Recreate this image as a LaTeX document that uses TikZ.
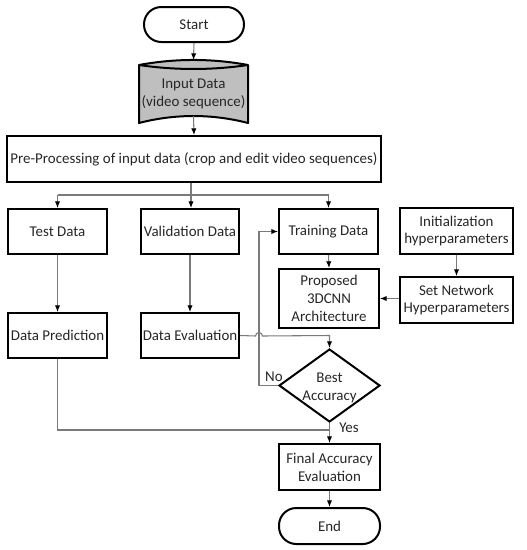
\documentclass[tikz,border=0pt]{standalone}
\usepackage{fontspec}
\setmainfont{Carlito}
\usetikzlibrary{arrows.meta,shapes.geometric}
\definecolor{txt}{HTML}{262626}
\definecolor{conngray}{HTML}{7A7A7A}
\definecolor{inputgray}{HTML}{BFBFBF}
\newcommand\fsz{\fontsize{11.2pt}{13.3pt}\selectfont}
\begin{document}
\begin{tikzpicture}[x=0.75pt,y=-0.75pt,
  box/.style={draw=black,line width=1.5pt,inner sep=0pt,align=center,font=\fsz,text=txt},
  term/.style={box,rounded corners=13pt},
  decision/.style={box,diamond,aspect=1.38},
  conn/.style={draw=conngray,line width=0.8pt,-{Latex[length=5pt,width=4pt,color=black]}},
  plain/.style={draw=conngray,line width=0.8pt},
  lbl/.style={font=\fsz,text=txt,inner sep=0pt,align=center}]
\useasboundingbox (0,0) rectangle (527,550);

% input data shape
\draw[fill=inputgray,line width=1.5pt,line join=round] (139,65) .. controls (175,58.3) and (212,58.3) .. (248,65)
  -- (248,123) .. controls (212,113.7) and (175,113.7) .. (139,123) -- cycle;
\draw[line width=1.5pt] (139,65) .. controls (175,70.3) and (212,70.3) .. (248,65);

\node[term,minimum width=100*0.75pt,minimum height=35*0.75pt] (start) at (194,24.5) {Start};
\node[lbl] (inp) at (193.5,94) {Input Data\\(video sequence)};
\coordinate (inptop) at (193.5,60);
\coordinate (inpbot) at (193.5,116);
\node[box,minimum width=374*0.75pt,minimum height=46*0.75pt] (pre) at (194,159) {Pre-Processing of input data (crop and edit video sequences)};

\node[box,minimum width=99*0.75pt,minimum height=45*0.75pt] (test) at (57.5,231.5) {Test Data};
\node[box,minimum width=98*0.75pt,minimum height=45*0.75pt] (val) at (190,231.5) {Validation Data};
\node[box,minimum width=99*0.75pt,minimum height=45*0.75pt] (train) at (328.5,231.5) {Training Data};
\node[box,minimum width=113*0.75pt,minimum height=46*0.75pt] (init) at (456.5,231) {Initialization\\hyperparameters};
\node[box,minimum width=100*0.75pt,minimum height=59*0.75pt] (prop) at (329,298.5) {Proposed\\3DCNN\\Architecture};
\node[box,minimum width=113*0.75pt,minimum height=46*0.75pt] (setnet) at (456.5,300) {Set Network\\Hyperparameters};
\node[box,minimum width=99*0.75pt,minimum height=45*0.75pt] (pred) at (57.5,335.5) {Data Prediction};
\node[box,minimum width=98*0.75pt,minimum height=45*0.75pt] (eval) at (190,335.5) {Data Evaluation};
\node[decision,minimum width=101*0.75pt,minimum height=73*0.75pt,inner sep=0pt] (best) at (329.5,385.5) {};
\node[lbl] (bestlbl) at (329.5,388) {Best\\Accuracy};
\node[box,minimum width=101*0.75pt,minimum height=46*0.75pt] (final) at (329.5,467) {Final Accuracy\\Evaluation};
\node[term,minimum width=101*0.75pt,minimum height=36*0.75pt] (end) at (329.5,526) {End};

% connectors
\draw[conn] (start.south) -- (inptop);
\draw[conn] (inpbot) -- (pre.north);
\coordinate (busL) at (57.5,195);
\coordinate (busR) at (328.5,195);
\coordinate (busM) at (191,195);
\draw[plain] (pre.south -| busM) -- (busM);
\draw[plain] (busL) -- (busR);
\draw[conn] (busL) -- (test.north);
\draw[conn] (busM) -- (busM |- val.north);
\draw[conn] (busR) -- (train.north);
\draw[conn] (train.south) -- (prop.north);
\draw[conn] (init.south) -- (setnet.north);
\draw[conn] (setnet.west |- prop.east) -- (prop.east);
\draw[conn] (test.south) -- (pred.north);
\draw[conn] (val.south) -- (eval.north);
\coordinate (hop) at (259,336);
\draw[conn] (eval.east) -- ([xshift=-2.6pt]hop) arc[start angle=180,end angle=0,radius=2.6pt] -- (eval.east -| best.north) -- (best.north);
\coordinate (nocorner) at (259,385.5);
\draw[conn] (best.west) -- (nocorner) -- (nocorner |- train.west) -- (train.west);
\node[lbl] (nolbl) at (274,377) {No};
\coordinate (join) at (329.5,430);
\draw[plain] (pred.south) -- (pred.south |- join) -- (join);
\draw[conn] (best.south) -- (final.north);
\node[lbl] (yeslbl) at (349,427.5) {Yes};
\draw[conn] (final.south) -- (end.north);
\end{tikzpicture}
\end{document}
